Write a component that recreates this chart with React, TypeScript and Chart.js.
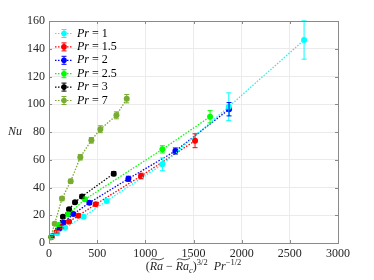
import React, { useEffect, useRef } from "react";
import { Chart, registerables } from "chart.js";

Chart.register(...registerables);

const seriesLabels = ["1", "1.5", "2", "2.5", "3", "7"];
const seriesColors = ["#00FFFF", "#FF0000", "#0000FF", "#00FF00", "#000000", "#77AC30"];

const x1 = [25, 86, 166, 360, 599, 1177, 1866, 2648];
const y1 = [4.5, 7, 11, 19, 30.3, 56.7, 98.2, 146.3];
const e1 = [0.5, 0.8, 1, 1, 1.2, 4.6, 10, 13.8];

const x15 = [30, 80, 132, 208, 305, 485, 955, 1516];
const y15 = [4.5, 8, 11.8, 15.4, 19.7, 27.9, 48.3, 73.7];
const e15 = [0.5, 0.8, 1, 1, 1, 1.2, 2, 5];

const x2 = [25, 110, 150, 253, 419, 824, 1312, 1869];
const y2 = [4.5, 10.5, 14.6, 20.9, 29, 46.3, 66.3, 96.4];
const e2 = [0.5, 0.8, 1, 1, 1.2, 1.8, 2.2, 4.8];

const x25 = [20, 104, 200, 374, 1177, 1672];
const y25 = [4.5, 13, 20.7, 31.5, 67.5, 91];
const e25 = [0.5, 1, 1, 1.2, 2.6, 4.4];

const x3 = [20, 145, 208, 270, 343, 672];
const y3 = [4.5, 19, 24.3, 29.3, 33.6, 50];
const e3 = [0.5, 1, 1, 1, 1.2, 1.5];

const x7 = [15, 59, 135, 225, 325, 440, 533, 700, 807];
const y7 = [4, 13.9, 32, 44.5, 61.8, 74, 82, 92, 104];
const e7 = [0.5, 1, 1.5, 1.5, 2, 2, 2.5, 2.5, 3];

const xTicksMax = 3000;
const yTicksMax = 160;

const allX = [x1, x15, x2, x25, x3, x7];
const allY = [y1, y15, y2, y25, y3, y7];
const allE = [e1, e15, e2, e25, e3, e7];

const SERIF = `"Liberation Serif", "Times New Roman", "DejaVu Serif", serif`;

function drawErrBar(ctx: CanvasRenderingContext2D, x: number, yTop: number, yBot: number, color: string) {
  ctx.strokeStyle = color;
  ctx.lineWidth = 1;
  ctx.setLineDash([]);
  ctx.beginPath();
  ctx.moveTo(x, yTop);
  ctx.lineTo(x, yBot);
  ctx.moveTo(x - 2.5, yTop);
  ctx.lineTo(x + 2.5, yTop);
  ctx.moveTo(x - 2.5, yBot);
  ctx.lineTo(x + 2.5, yBot);
  ctx.stroke();
}

const errorBarPlugin = {
  id: "errbars",
  afterDatasetsDraw(chart: any) {
    const ctx = chart.ctx as CanvasRenderingContext2D;
    const xs = chart.scales.x;
    const ys = chart.scales.y;
    ctx.save();
    allX.forEach((xa, si) => {
      xa.forEach((xv, i) => {
        const px = xs.getPixelForValue(xv);
        const yT = ys.getPixelForValue(allY[si][i] + allE[si][i]);
        const yB = ys.getPixelForValue(allY[si][i] - allE[si][i]);
        drawErrBar(ctx, px, yT, yB, seriesColors[si]);
      });
    });
    ctx.restore();
  },
};

const decorPlugin = {
  id: "decor",
  afterDraw(chart: any) {
    const ctx = chart.ctx as CanvasRenderingContext2D;
    const a = chart.chartArea;
    const xs = chart.scales.x;
    const ys = chart.scales.y;
    ctx.save();
    ctx.strokeStyle = "#8a8a8a";
    ctx.lineWidth = 1;
    ctx.setLineDash([]);
    ctx.beginPath();
    ctx.rect(Math.round(a.left) + 0.5, Math.round(a.top) + 0.5, Math.round(a.right - a.left), Math.round(a.bottom - a.top));
    ctx.stroke();
    ctx.beginPath();
    xs.ticks.forEach((t: any) => {
      const px = Math.round(xs.getPixelForValue(t.value)) + 0.5;
      ctx.moveTo(px, a.bottom);
      ctx.lineTo(px, a.bottom - 3);
      ctx.moveTo(px, a.top);
      ctx.lineTo(px, a.top + 3);
    });
    ys.ticks.forEach((t: any) => {
      const py = Math.round(ys.getPixelForValue(t.value)) + 0.5;
      ctx.moveTo(a.left, py);
      ctx.lineTo(a.left + 3, py);
      ctx.moveTo(a.right, py);
      ctx.lineTo(a.right - 3, py);
    });
    ctx.stroke();

    ctx.fillStyle = "#262626";
    ctx.font = `12px ${SERIF}`;
    ctx.textAlign = "center";
    ctx.textBaseline = "top";
    xs.ticks.forEach((t: any) => {
      ctx.fillText(String(t.value), xs.getPixelForValue(t.value), a.bottom + 5);
    });
    ctx.textAlign = "right";
    ctx.textBaseline = "middle";
    ys.ticks.forEach((t: any) => {
      ctx.fillText(String(t.value), a.left - 4, ys.getPixelForValue(t.value));
    });

    ctx.font = `italic 12px ${SERIF}`;
    ctx.textAlign = "center";
    ctx.textBaseline = "middle";
    ctx.fillText("Nu", 15, (a.top + a.bottom) / 2);

    const big = 12;
    const small = 8.5;
    const parts: { t: string; f: string; dy: number; tilde?: boolean }[] = [
      { t: "(", f: `${big}px ${SERIF}`, dy: 0 },
      { t: "Ra", f: `italic ${big}px ${SERIF}`, dy: 0, tilde: true },
      { t: " \u2212 ", f: `${big}px ${SERIF}`, dy: 0 },
      { t: "Ra", f: `italic ${big}px ${SERIF}`, dy: 0, tilde: true },
      { t: "c", f: `italic ${small}px ${SERIF}`, dy: 2.5 },
      { t: ")", f: `${big}px ${SERIF}`, dy: 0 },
      { t: "3/2", f: `${small}px ${SERIF}`, dy: -5 },
      { t: "  ", f: `${big}px ${SERIF}`, dy: 0 },
      { t: "Pr", f: `italic ${big}px ${SERIF}`, dy: 0 },
      { t: "\u22121/2", f: `${small}px ${SERIF}`, dy: -5 },
    ];
    let total = 0;
    const widths = parts.map((p) => {
      ctx.font = p.f;
      const w = ctx.measureText(p.t).width;
      total += w;
      return w;
    });
    let cx = (a.left + a.right) / 2 - total / 2;
    const base = 270;
    ctx.textAlign = "left";
    ctx.textBaseline = "alphabetic";
    parts.forEach((p, i) => {
      ctx.font = p.f;
      ctx.fillText(p.t, cx, base + p.dy);
      if (p.tilde) {
        const w = widths[i];
        const ty = base - 11;
        ctx.strokeStyle = "#262626";
        ctx.lineWidth = 0.8;
        ctx.beginPath();
        ctx.moveTo(cx + 1, ty + 1);
        ctx.bezierCurveTo(cx + w * 0.3, ty - 2.5, cx + w * 0.6, ty + 3.5, cx + w + 1, ty - 1);
        ctx.stroke();
      }
      cx += widths[i];
    });

    const lx0 = a.left + 6;
    const lx1 = a.left + 24;
    const lm = (lx0 + lx1) / 2;
    seriesLabels.forEach((lab, i) => {
      const y = a.top + 12.5 + i * 13.4;
      const c = seriesColors[i];
      ctx.strokeStyle = c;
      ctx.lineWidth = 1.2;
      ctx.setLineDash([1.5, 1.5]);
      ctx.beginPath();
      ctx.moveTo(lx0, y);
      ctx.lineTo(lx1, y);
      ctx.stroke();
      ctx.setLineDash([]);
      drawErrBar(ctx, lm, y - 4, y + 4, c);
      ctx.fillStyle = c;
      ctx.beginPath();
      ctx.arc(lm, y, 2.8, 0, Math.PI * 2);
      ctx.fill();
      ctx.fillStyle = "#000000";
      ctx.textBaseline = "middle";
      ctx.font = `italic 12px ${SERIF}`;
      let tx = lx1 + 4;
      ctx.fillText("Pr", tx, y);
      tx += ctx.measureText("Pr").width;
      ctx.font = `12px ${SERIF}`;
      ctx.fillText(" = " + lab, tx, y);
    });
    ctx.restore();
  },
};

export default function App() {
  const ref = useRef<HTMLCanvasElement | null>(null);
  useEffect(() => {
    if (!ref.current) return;
    const datasets = allX.map((xa, si) => ({
      label: "Pr = " + seriesLabels[si],
      data: xa.map((xv, i) => ({ x: xv, y: allY[si][i] })),
      showLine: true,
      borderColor: seriesColors[si],
      backgroundColor: seriesColors[si],
      borderWidth: 1.3,
      borderDash: [1.5, 1.5],
      pointRadius: 3,
      pointBorderWidth: 0,
      pointBackgroundColor: seriesColors[si],
    }));
    const chart = new Chart(ref.current, {
      type: "scatter",
      data: { datasets },
      options: {
        animation: false,
        responsive: false,
        maintainAspectRatio: false,
        layout: { padding: { top: 21, right: 36, left: 0, bottom: 0 } },
        plugins: { legend: { display: false }, tooltip: { enabled: false } },
        scales: {
          x: {
            type: "linear",
            min: 0,
            max: xTicksMax,
            ticks: { stepSize: 500, color: "rgba(0,0,0,0)", maxRotation: 0, callback: (v: any) => String(v) },
            grid: { color: "#ebebeb", drawTicks: false },
            border: { color: "#8a8a8a" },
            afterFit: (s: any) => {
              s.height = 37;
            },
          },
          y: {
            type: "linear",
            min: 0,
            max: yTicksMax,
            ticks: { stepSize: 20, color: "rgba(0,0,0,0)", callback: (v: any) => String(v) },
            grid: { color: "#ebebeb", drawTicks: false },
            border: { color: "#8a8a8a" },
            afterFit: (s: any) => {
              s.width = 49;
            },
          },
        },
      },
      plugins: [errorBarPlugin, decorPlugin],
    } as any);
    return () => chart.destroy();
  }, []);
  return (
    <div style={{ position: "fixed", left: 0, top: 0, width: 374, height: 280, background: "#fff" }}>
      <canvas ref={ref} width={374} height={280} style={{ width: 374, height: 280 }} />
    </div>
  );
}
